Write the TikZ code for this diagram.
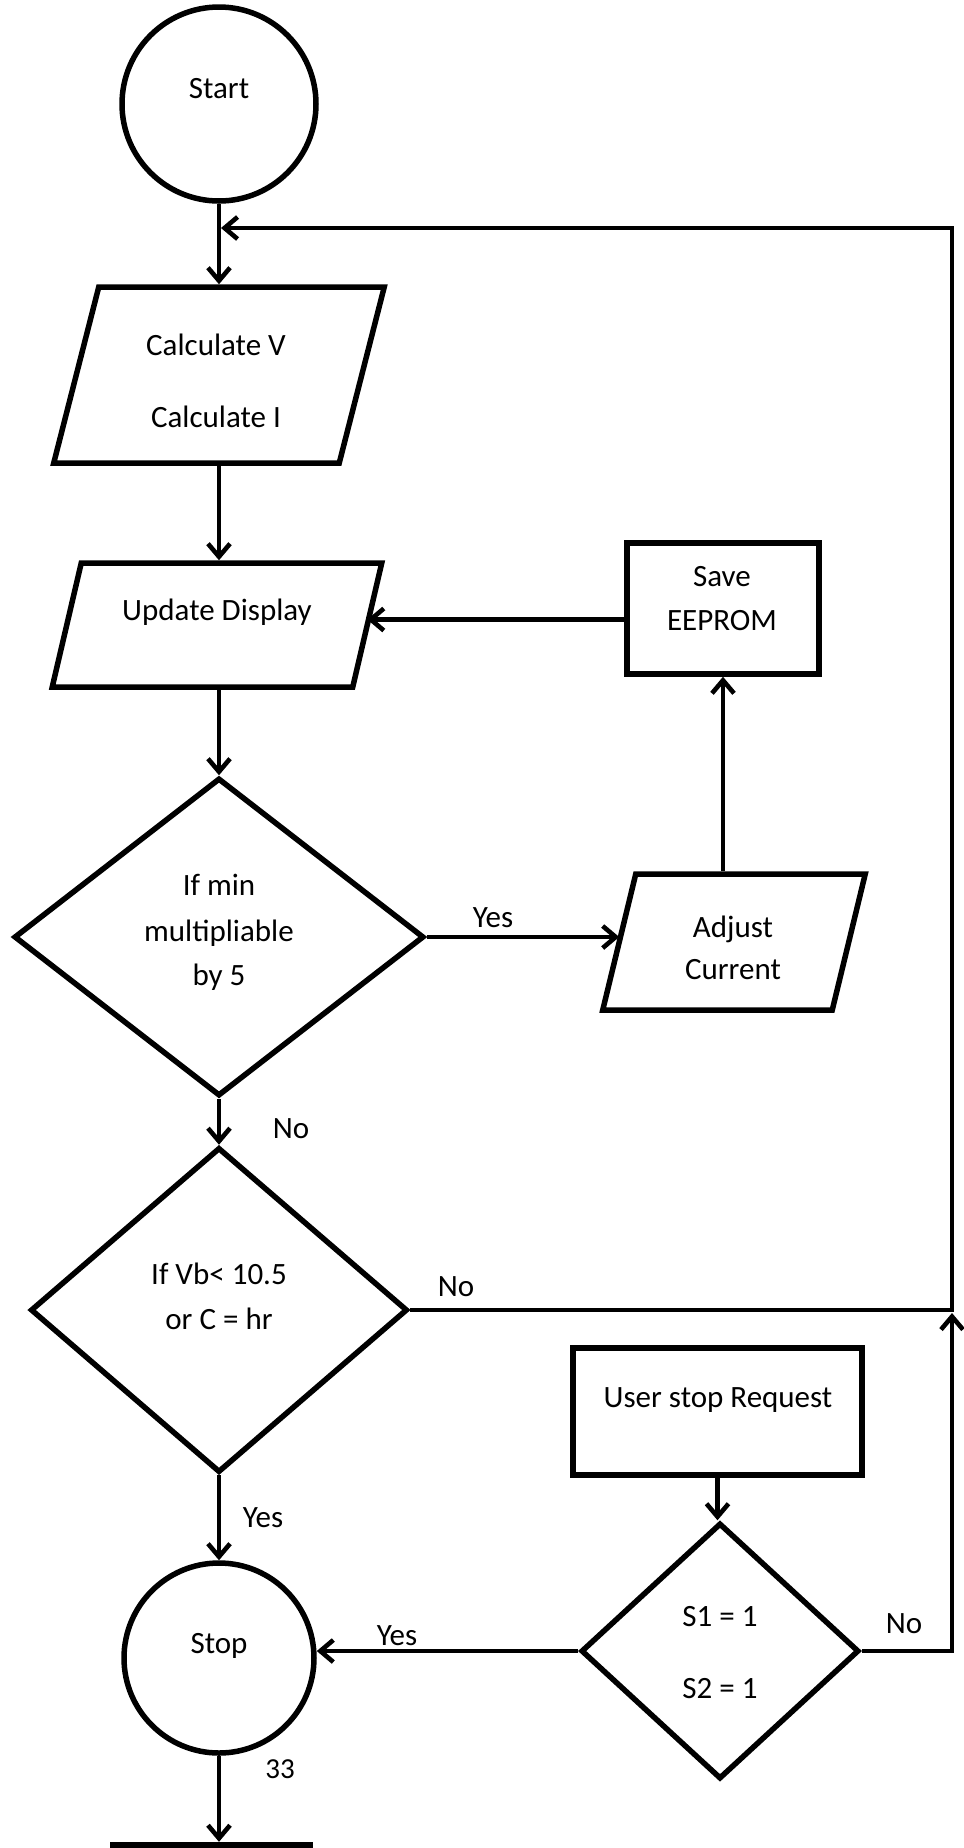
\documentclass[tikz,border=0pt]{standalone}
\usepackage{fontspec}
\setmainfont{Carlito}
\usetikzlibrary{shapes.geometric,arrows.meta,calc}

\begin{document}
\begin{tikzpicture}[x=1pt,y=-1pt,
  shapeline/.style={draw, line width=5.5pt, inner sep=0pt},
  terminal/.style={shapeline, circle},
  decision/.style={shapeline, diamond},
  process/.style={shapeline, rectangle},
  iobox/.style={rectangle, inner sep=0pt, outer sep=2.75pt},
  txt/.style={font=\fontsize{31}{37}\selectfont, anchor=base, inner sep=0pt},
  arr/.style={line width=4.6pt, -{Straight Barb[length=13pt,width=22pt]}}
]
\useasboundingbox (0,0) rectangle (964,1848);

% ---- shapes ----
\node[terminal, minimum size=194] (start) at (219,104) {};
\node[txt] (startT) at (219,98) {Start};

\node[iobox, minimum width=280, minimum height=176] (calc) at (219,375) {};
\draw[shapeline] ([xshift=22.5,yshift=-2.75]calc.north west) -- ([xshift=22.5,yshift=-2.75]calc.north east)
  -- ([xshift=-22.5,yshift=2.75]calc.south east) -- ([xshift=-22.5,yshift=2.75]calc.south west) -- cycle;
\node[txt] (calcV) at (216,355) {Calculate V};
\node[txt] (calcI) at (216,427) {Calculate I};

\node[iobox, minimum width=295, minimum height=124] (upd) at (217,625) {};
\draw[shapeline] ([xshift=14.5,yshift=-2.75]upd.north west) -- ([xshift=14.5,yshift=-2.75]upd.north east)
  -- ([xshift=-14.5,yshift=2.75]upd.south east) -- ([xshift=-14.5,yshift=2.75]upd.south west) -- cycle;
\node[txt] (updT) at (217,620) {Update Display};

\node[process, minimum width=192, minimum height=131] (save) at (723,608.5) {};
\node[txt] (saveA) at (722,586) {Save};
\node[txt] (saveB) at (722,630) {EEPROM};

\node[decision, minimum width=410, minimum height=318] (d1) at (219,937) {};
\node[txt] (d1a) at (219,895) {If min};
\node[txt] (d1b) at (219,941) {multipliable};
\node[txt] (d1c) at (219,985) {by 5};

\node[iobox, minimum width=224, minimum height=136] (adj) at (734,942) {};
\draw[shapeline] ([xshift=16.5,yshift=-2.75]adj.north west) -- ([xshift=16.5,yshift=-2.75]adj.north east)
  -- ([xshift=-16.5,yshift=2.75]adj.south east) -- ([xshift=-16.5,yshift=2.75]adj.south west) -- cycle;
\node[txt] (adjA) at (733,937) {Adjust};
\node[txt] (adjB) at (733,979) {Current};

\node[decision, minimum width=377, minimum height=325] (d2) at (219,1310) {};
\node[txt] (d2a) at (219,1284) {If Vb< 10.5};
\node[txt] (d2b) at (219,1329) {or C = hr};

\node[process, minimum width=289, minimum height=127] (user) at (717.5,1411.5) {};
\node[txt] (userT) at (718,1407) {User stop Request};

\node[decision, minimum width=278, minimum height=256] (sw) at (720,1651) {};
\node[txt] (swA) at (720,1626) {S1 = 1};
\node[txt] (swB) at (720,1698) {S2 = 1};

\node[terminal, minimum size=190] (stop) at (219,1658) {};
\node[txt] (stopT) at (219,1653) {Stop};

\node[rectangle, fill=black, inner sep=0pt, minimum width=203, minimum height=12] (next) at (211.5,1848) {};

\node[txt, font=\fontsize{29}{34}\selectfont] (page) at (280,1778) {33};

% ---- connectors ----
\coordinate (loopTop) at (952,228);

\draw[arr] (start.south) -- (calc.north);
\draw[arr] (calc.south) -- (calc.south |- upd.north);
\draw[arr] (d1.north |- upd.south) -- (d1.north);
\draw[arr] (d1.south) -- (d2.north);
\draw[arr] (d2.south) -- (stop.north);
\draw[arr] (stop.south) -- (stop.south |- next.north);

\draw[arr] (d1.east) -- (d1.east -| adj.west);
\draw[arr] (save.south |- adj.north) -- (save.south);
\draw[arr] ([yshift=-11pt]save.west) -- ([yshift=-11pt]save.west -| upd.east);

\draw[arr] (user.south) -- (user.south |- sw.north);
\draw[arr] (sw.west) -- (sw.west -| stop.east);

\draw[arr, shorten >=2pt] (d2.east) -- (d2.east -| loopTop) -- (loopTop) -- (loopTop -| start.south);
\draw[arr, shorten >=3pt] (sw.east) -- (sw.east -| loopTop) -- (d2.east -| loopTop);

% ---- branch labels ----
\node[txt] (yes1) at (493,927) {Yes};
\node[txt] (no1) at (291,1138) {No};
\node[txt] (no2) at (456,1296) {No};
\node[txt] (yes2) at (263,1527) {Yes};
\node[txt] (yes3) at (397,1645) {Yes};
\node[txt] (no3) at (904,1633) {No};
\end{tikzpicture}
\end{document}
